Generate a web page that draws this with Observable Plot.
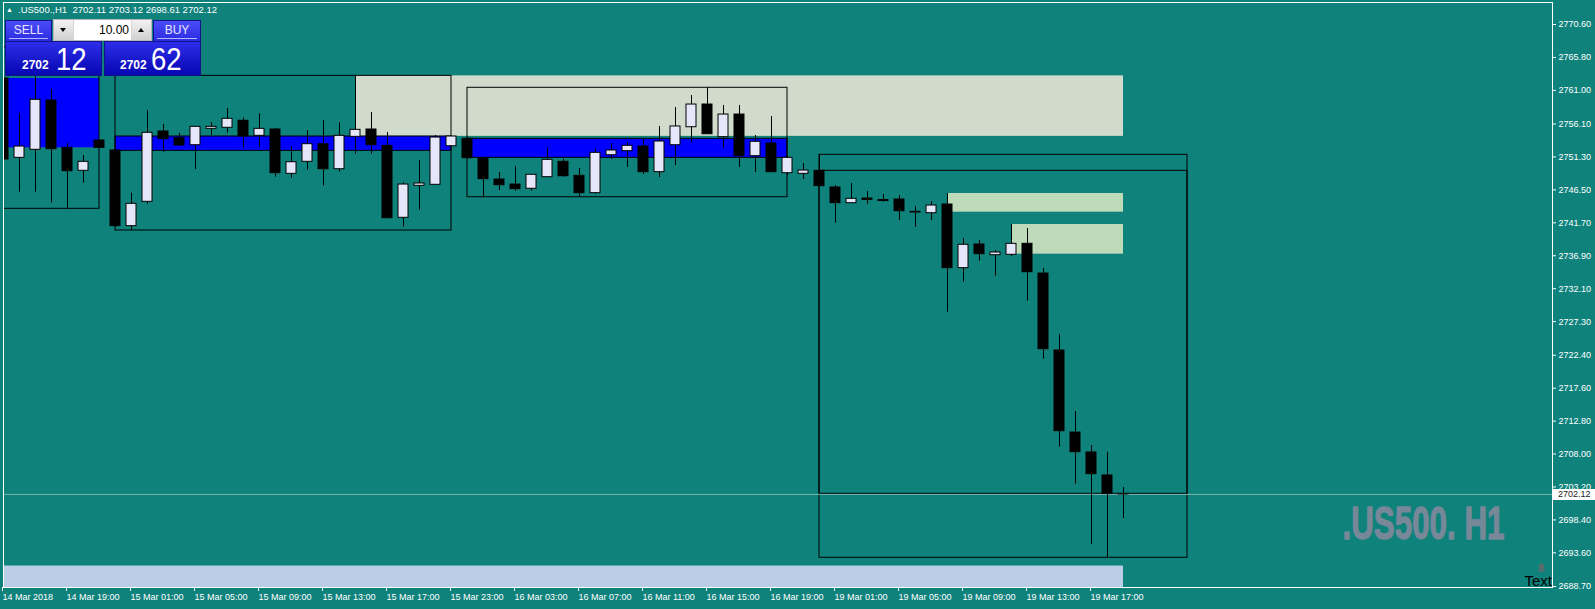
<!DOCTYPE html>
<html>
<head>
<meta charset="utf-8">
<script src="https://cdn.jsdelivr.net/npm/d3@7"></script>
<script src="https://cdn.jsdelivr.net/npm/@observablehq/plot@0.6"></script>
<style>
  html, body { margin: 0; padding: 0; background: #0f827c; }
  #wrap { position: relative; width: 1595px; height: 609px; overflow: hidden;
          font-family: "Liberation Sans", Arial, sans-serif; }
  #chart svg { display: block; }
  #title { position: absolute; left: 18px; top: 5px; font-size: 9.5px; line-height: 1;
           color: #fff; white-space: pre; }
  #tri { position: absolute; left: 6px; top: 6px; font-size: 7px; color: #fff; line-height: 1; }
  .top { position: absolute; top: 20px; height: 21px; box-sizing: border-box;
         border: 1px solid #12128a; border-bottom: none;
         background: linear-gradient(#4c4cf8, #2c2ce2); color: #e8e8ff;
         font-size: 12px; line-height: 19px; text-align: center; }
  .top .ul { position: absolute; left: 3px; right: 3px; top: 17px; height: 1px; background: #b4b4ff; }
  #sellTop { left: 5px; width: 47px; }
  #buyTop { left: 153px; width: 48px; }
  .px { position: absolute; top: 41px; height: 35px; width: 97px; box-sizing: border-box;
        border: 1px solid #12128a; background: linear-gradient(#2e2eea, #0606b2); color: #fff; }
  #sellPx { left: 5px; }
  #buyPx { left: 104px; }
  .px .small { position: absolute; top: 17px; font-size: 12px; font-weight: bold; line-height: 1; }
  .px .big { position: absolute; top: 1px; font-size: 32px; line-height: 1;
             transform: scaleX(0.86); transform-origin: left top; }
  #vol { position: absolute; left: 53px; top: 19px; width: 99px; height: 22px; box-sizing: border-box;
         border: 1px solid #b8b8b8; background: #d6d6d6; }
  #vol .arr { position: absolute; top: 0; width: 19px; height: 20px;
              background: linear-gradient(#f2f2f2, #d0d0d0); }
  #vol .dn { left: 0; }
  #vol .upb { right: 0; }
  #vol .field { position: absolute; left: 20px; top: 0; width: 57px; height: 20px; background: #fff;
                font-size: 12px; line-height: 20px; text-align: right; color: #000; box-sizing: border-box;
                padding-right: 2px; }
  .tri-dn, .tri-up { position: absolute; left: 6px; width: 0; height: 0;
                     border-left: 3.5px solid transparent; border-right: 3.5px solid transparent; }
  .tri-dn { top: 8px; border-top: 4px solid #000; }
  .tri-up { top: 8px; border-bottom: 4px solid #000; }
  #objText { position: absolute; right: 43px; top: 573px; font-size: 15px; line-height: 1; color: #000; }
  #objIcon { position: absolute; left: 1537px; top: 563px; }
</style>
</head>
<body>
<div id="wrap">
  <div id="chart"></div>
  <div id="tri">▲</div>
  <div id="title"></div>
  <div id="sellTop" class="top">SELL<div class="ul"></div></div>
  <div id="vol">
    <div class="arr dn"><div class="tri-dn"></div></div>
    <div class="field" id="lots"></div>
    <div class="arr upb"><div class="tri-up"></div></div>
  </div>
  <div id="buyTop" class="top">BUY<div class="ul"></div></div>
  <div id="sellPx" class="px"><span class="small" style="left:16px" id="bidHead"></span><span class="big" style="left:50px" id="bidTail"></span></div>
  <div id="buyPx" class="px"><span class="small" style="left:15px" id="askHead"></span><span class="big" style="left:46px" id="askTail"></span></div>
  <svg id="objIcon" width="9" height="10"><circle cx="4.5" cy="3" r="2.6" fill="#5d6b6b"/><rect x="1.5" y="5.5" width="6" height="3" fill="#5d6b6b"/></svg>
  <div id="objText">Text</div>
</div>
<script>
// Symbol and quote
const symbol = ".US500.";
const period = "H1";
const lastBar = [2702.11, 2703.12, 2698.61, 2702.12]; // O H L C of the forming bar
const bid = 2702.12;
const ask = 2702.62;
const lots = "10.00";

// Hourly bars, 14 Mar 2018 15:00 .. 19 Mar 2018 19:00
const barOpen = [2762.73, 2751.17, 2752.34, 2759.52, 2752.63, 2749.28, 2753.70, 2752.24, 2741.21, 2744.76,
  2755.01, 2754.03, 2753.01, 2755.40, 2755.55, 2756.57, 2754.38, 2755.30, 2748.84, 2750.59,
  2753.16, 2749.51, 2754.23, 2755.30, 2752.92, 2742.43, 2747.09, 2747.24, 2752.86, 2753.94,
  2751.12, 2748.01, 2747.28, 2746.66, 2748.35, 2750.59, 2748.55, 2746.02, 2751.55, 2752.14,
  2752.82, 2749.08, 2753.01, 2755.63, 2758.94, 2754.18, 2757.48, 2751.41, 2753.26, 2748.93,
  2748.84, 2749.28, 2746.85, 2744.56, 2745.24, 2745.02, 2745.10, 2743.30, 2743.10, 2744.37,
  2735.09, 2738.54, 2736.98, 2737.04, 2738.64, 2734.31, 2723.09, 2711.14, 2708.23, 2704.88,
  lastBar[0]];
const barHigh = [2767.25, 2757.59, 2763.31, 2761.13, 2753.30, 2751.51, 2753.80, 2752.53, 2746.02, 2758.07,
  2756.03, 2754.76, 2755.69, 2756.32, 2758.36, 2757.00, 2757.59, 2755.44, 2752.82, 2755.15,
  2756.61, 2756.27, 2763.12, 2757.78, 2754.86, 2747.53, 2750.78, 2754.42, 2754.28, 2754.20,
  2751.12, 2749.03, 2749.91, 2748.70, 2752.63, 2750.97, 2749.62, 2752.49, 2753.26, 2753.40,
  2753.94, 2755.74, 2758.50, 2760.25, 2761.38, 2758.80, 2758.80, 2754.42, 2757.19, 2751.51,
  2750.34, 2751.61, 2747.14, 2747.43, 2746.26, 2745.83, 2745.68, 2744.08, 2744.81, 2745.97,
  2739.41, 2739.12, 2737.67, 2741.45, 2740.87, 2735.04, 2725.42, 2714.20, 2709.25, 2708.27,
  lastBar[1]];
const barLow = [2747.87, 2746.16, 2746.16, 2744.56, 2743.74, 2747.47, 2752.55, 2741.02, 2740.58, 2744.41,
  2751.95, 2752.82, 2749.47, 2754.47, 2754.76, 2752.63, 2752.72, 2748.35, 2748.20, 2749.37,
  2747.09, 2749.08, 2751.70, 2751.70, 2742.37, 2741.06, 2743.54, 2747.24, 2752.86, 2750.97,
  2745.43, 2746.41, 2746.31, 2746.31, 2748.35, 2748.35, 2745.53, 2745.83, 2750.93, 2749.76,
  2748.74, 2748.30, 2750.05, 2753.30, 2754.61, 2752.57, 2749.76, 2749.03, 2749.08, 2748.59,
  2748.01, 2747.04, 2741.64, 2744.56, 2744.41, 2744.70, 2742.04, 2741.02, 2742.04, 2728.67,
  2733.04, 2736.11, 2733.92, 2736.79, 2730.28, 2721.82, 2709.00, 2703.61, 2694.78, 2692.88,
  lastBar[2]];
const barClose = [2750.93, 2752.82, 2759.63, 2752.43, 2749.22, 2750.59, 2752.63, 2741.21, 2744.47, 2754.82,
  2753.89, 2752.97, 2755.69, 2755.69, 2756.86, 2754.28, 2755.40, 2748.93, 2750.53, 2753.16,
  2749.51, 2754.38, 2755.25, 2753.01, 2742.37, 2747.28, 2747.43, 2754.13, 2754.28, 2751.12,
  2748.06, 2747.18, 2746.60, 2748.70, 2750.88, 2748.49, 2746.02, 2751.90, 2752.24, 2752.92,
  2749.08, 2753.55, 2755.74, 2758.94, 2754.61, 2757.48, 2751.41, 2753.51, 2749.08, 2751.17,
  2749.32, 2747.04, 2744.56, 2745.20, 2745.05, 2744.88, 2743.39, 2743.20, 2744.22, 2735.09,
  2738.50, 2737.13, 2737.37, 2738.64, 2734.50, 2723.28, 2711.33, 2708.27, 2705.07, 2702.21,
  lastBar[3]];

// Time axis: bar index of each label and its text
const timeTickBars = [0, 4, 8, 12, 16, 20, 24, 28, 32, 36, 40, 44, 48, 52, 56, 60, 64, 68];
const timeTickLabels = ["14 Mar 2018", "14 Mar 19:00", "15 Mar 01:00", "15 Mar 05:00", "15 Mar 09:00",
  "15 Mar 13:00", "15 Mar 17:00", "15 Mar 23:00", "16 Mar 03:00", "16 Mar 07:00", "16 Mar 11:00",
  "16 Mar 15:00", "16 Mar 19:00", "19 Mar 01:00", "19 Mar 05:00", "19 Mar 09:00", "19 Mar 13:00",
  "19 Mar 17:00"];

// Price scale labels
const priceTicks = [2770.60, 2765.80, 2761.00, 2756.10, 2751.30, 2746.50, 2741.70, 2736.90, 2732.10,
  2727.30, 2722.40, 2717.60, 2712.80, 2708.00, 2703.20, 2698.40, 2693.60, 2688.70];

// Filled zones: first bar, last bar, upper and lower price, colour
const filledZones = [
  {from: -1, to: 6,  top: 2762.73, bottom: 2752.63, color: "#0000ff", edge: "none"},
  {from: 22, to: 70, top: 2763.12, bottom: 2754.30, color: "#d0dbcb", edge: "none"},
  {from: 7,  to: 28, top: 2754.28, bottom: 2752.19, color: "#0000ff", edge: "black"},
  {from: 29, to: 49, top: 2753.94, bottom: 2751.17, color: "#0000ff", edge: "black"},
  {from: 59, to: 70, top: 2745.97, bottom: 2743.25, color: "#bedbb9", edge: "none"},
  {from: 63, to: 70, top: 2741.45, bottom: 2737.13, color: "#bedbb9", edge: "none"},
  {from: -1, to: 70, top: 2691.68, bottom: 2680.00, color: "#bacfe7", edge: "none"}
];

// Outlined ranges: first bar, last bar, upper and lower price
const rangeBoxes = [
  {from: -1, to: 6,  top: 2767.25, bottom: 2743.74},
  {from: 7,  to: 28, top: 2763.12, bottom: 2740.58},
  {from: 29, to: 49, top: 2761.38, bottom: 2745.43},
  {from: 51, to: 74, top: 2751.61, bottom: 2692.88},
  {from: 51, to: 74, top: 2749.28, bottom: 2702.21}
];

const bars = barOpen.map((o, i) => ({i, o, h: barHigh[i], l: barLow[i], c: barClose[i]}));
const upBars = bars.filter(d => d.c >= d.o);
const downBars = bars.filter(d => d.c < d.o);
const half = 5 / 16;           // candle body half-width, in bars
const watermark = `${symbol} ${period}`;

const chart = Plot.plot({
  width: 1595,
  height: 609,
  marginLeft: 3,
  marginRight: 43,
  marginTop: 2,
  marginBottom: 22,
  style: {background: "#0f827c", fontFamily: "Liberation Sans, Arial, sans-serif", fontSize: "9px", overflow: "visible"},
  x: {type: "linear", domain: [0, 96.8125]},
  y: {domain: [2688.55, 2773.81]},
  marks: [
    Plot.text([watermark], {frameAnchor: "bottom-right", textAnchor: "end", dx: -48, dy: -49,
      fontSize: 46, fontWeight: "bold", fill: "#778899", stroke: "#778899", strokeWidth: 1.3}),
    Plot.rect(filledZones, {x1: "from", x2: "to", y1: "bottom", y2: "top",
      fill: d => d.color, stroke: d => d.edge, clip: true}),
    Plot.rect(rangeBoxes, {x1: "from", x2: "to", y1: "bottom", y2: "top",
      fill: "none", stroke: "black", clip: true}),
    Plot.ruleY([bid], {stroke: "#7fb3ae"}),
    Plot.ruleX(bars, {x: "i", y1: "l", y2: "h", stroke: "black", clip: true}),
    Plot.rect(upBars, {x1: d => d.i - half, x2: d => d.i + half, y1: "o", y2: "c",
      fill: "#e6e6fa", stroke: "black", clip: true}),
    Plot.rect(downBars, {x1: d => d.i - half, x2: d => d.i + half, y1: "o", y2: "c",
      fill: "black", stroke: "black", clip: true}),
    Plot.frame({stroke: "white"}),
    Plot.axisY(priceTicks, {anchor: "right", tickSize: 3, tickPadding: 3, label: null,
      tickFormat: d => d.toFixed(2), stroke: "white", fill: "white", fontSize: 9}),
    Plot.axisX(timeTickBars, {anchor: "bottom", tickSize: 4, tickPadding: 2, label: null,
      tickFormat: d => timeTickLabels[timeTickBars.indexOf(d)], textAnchor: "start", dx: -1,
      stroke: "white", fill: "white", fontSize: 9})
  ]
});

const svg = d3.select(chart);

// Condense the symbol watermark
svg.selectAll("text").filter(function () { return this.textContent === watermark; })
  .attr("textLength", 162).attr("lengthAdjust", "spacingAndGlyphs");

// Bid label on the price scale
const yBid = chart.scale("y").apply(bid);
const xEdge = chart.scale("x").range[1];
svg.append("rect").attr("x", xEdge + 1).attr("y", Math.round(yBid) - 5).attr("width", 43).attr("height", 11)
  .attr("fill", "white");
svg.append("text").attr("x", xEdge + 6).attr("y", yBid).attr("dy", "0.35em")
  .attr("text-anchor", "start").attr("font-size", 9).attr("fill", "#1a1a1a").text(bid.toFixed(2));

document.getElementById("chart").append(chart);

// Header line and one-click trading panel
document.getElementById("title").textContent =
  `${symbol},${period}  ${lastBar.map(v => v.toFixed(2)).join(" ")}`;
document.getElementById("lots").textContent = lots;
const split = v => { const s = v.toFixed(2); return [s.slice(0, 4), s.slice(5)]; };
const [bh, bt] = split(bid), [ah, at] = split(ask);
document.getElementById("bidHead").textContent = bh;
document.getElementById("bidTail").textContent = bt;
document.getElementById("askHead").textContent = ah;
document.getElementById("askTail").textContent = at;
</script>
</body>
</html>
